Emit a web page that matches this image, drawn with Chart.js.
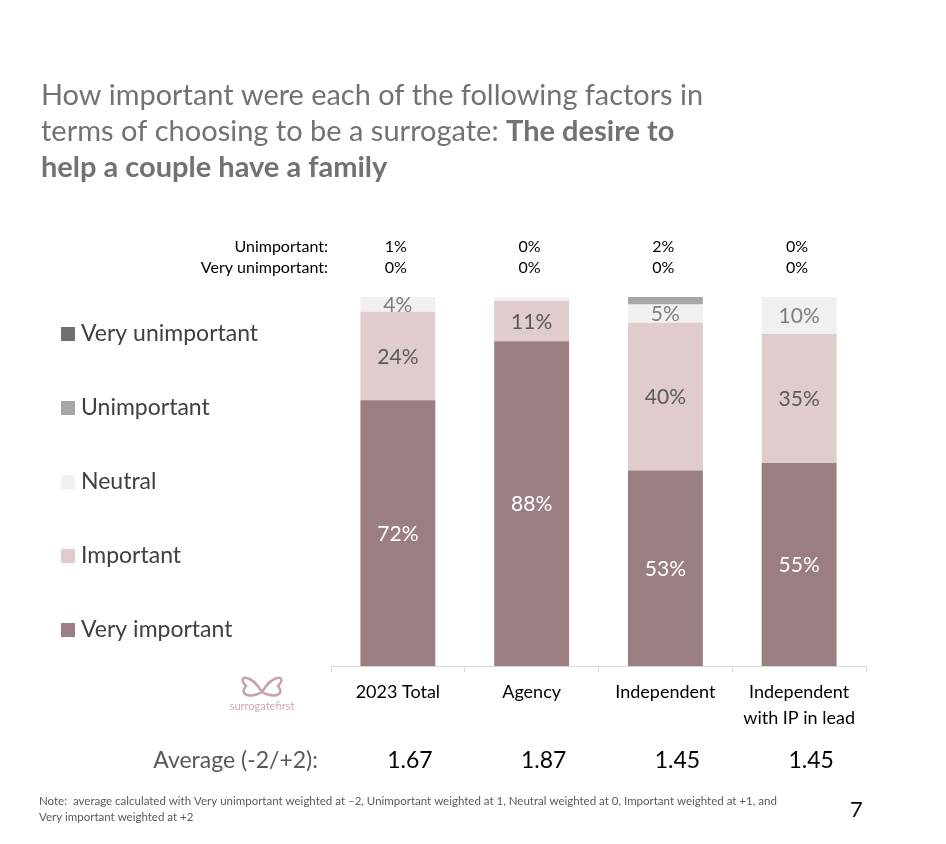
<!DOCTYPE html>
<html>
<head>
<meta charset="utf-8">
<script src="https://cdn.jsdelivr.net/npm/chart.js@4"></script>
<style>
  html, body { margin: 0; padding: 0; background: #fff; }
  #wrap { width: 946px; height: 844px; position: relative; }
</style>
</head>
<body>
<div id="wrap"><canvas id="chart" width="946" height="844"></canvas></div>
<script>
const categories = ['2023 Total', 'Agency', 'Independent', ['Independent', 'with IP in lead']];
const veryImportant = [72, 88, 53, 55];
const important = [24, 11, 40, 35];
const neutral = [4, 1, 5, 10];
const unimportant = [1, 0, 2, 0];
const veryUnimportant = [0, 0, 0, 0];
const averages = ['1.67', '1.87', '1.45', '1.45'];
const yTicks = [0, 100];

const FONT = 'Lato, "Open Sans", sans-serif';
const colors = {
  vi: '#9b7e82', im: '#e0cbcd', ne: '#f0f0f0', un: '#a6a6a6', vu: '#707070',
};

// titles, legend, side numbers and footnote drawn around the chart area
const decor = {
  id: 'decor',
  afterDraw(chart) {
    const { ctx } = chart;
    const x = chart.scales.x;
    ctx.save();
    ctx.textBaseline = 'middle';

    // title
    ctx.fillStyle = '#767171';
    ctx.textAlign = 'left';
    ctx.font = '29px ' + FONT;
    ctx.fillText('How important were each of the following factors in', 41, 96, 662);
    const part = 'terms of choosing to be a surrogate: ';
    ctx.fillText(part, 41, 132, 470);
    const w = Math.min(ctx.measureText(part).width, 470);
    ctx.font = 'bold 29px ' + FONT;
    ctx.fillText('The desire to', 41 + w, 132, 676 - 41 - w);
    ctx.fillText('help a couple have a family', 41, 168, 352);

    // top rows
    ctx.fillStyle = '#000';
    ctx.font = '16px ' + FONT;
    ctx.textAlign = 'right';
    ctx.fillText('Unimportant:', 328, 247);
    ctx.fillText('Very unimportant:', 328, 268);
    ctx.textAlign = 'center';
    categories.forEach((c, i) => {
      const cx = x.getPixelForValue(i) - 2;
      ctx.fillText(unimportant[i] + '%', cx, 247);
      ctx.fillText(veryUnimportant[i] + '%', cx, 268);
    });

    // legend
    const legend = [
      ['Very unimportant', colors.vu, 334],
      ['Unimportant', colors.un, 408],
      ['Neutral', colors.ne, 482],
      ['Important', colors.im, 556],
      ['Very important', colors.vi, 630],
    ];
    ctx.font = '23px ' + FONT;
    ctx.textAlign = 'left';
    legend.forEach(([t, c, y]) => {
      ctx.fillStyle = c;
      ctx.fillRect(61, y - 7, 14, 14);
      ctx.fillStyle = '#404040';
      ctx.fillText(t, 81, y);
    });

    // averages
    ctx.font = '23px ' + FONT;
    ctx.fillStyle = '#595959';
    ctx.textAlign = 'right';
    ctx.fillText('Average (-2/+2):', 318, 761);
    ctx.fillStyle = '#000';
    ctx.textAlign = 'center';
    averages.forEach((a, i) => ctx.fillText(a, x.getPixelForValue(i) + 12, 761));

    // note
    ctx.font = '11.5px ' + FONT;
    ctx.fillStyle = '#595959';
    ctx.textAlign = 'left';
    ctx.fillText('Note:  average calculated with Very unimportant weighted at \u20132, Unimportant weighted at 1, Neutral weighted at 0, Important weighted at +1, and', 39, 801, 752);
    ctx.fillText('Very important weighted at +2', 39, 817);
    ctx.font = '22px ' + FONT;
    ctx.fillStyle = '#000';
    ctx.fillText('7', 850, 810);

    // logo
    ctx.strokeStyle = '#c9a2a9';
    ctx.lineWidth = 2.5;
    ctx.beginPath();
    ctx.moveTo(262, 692);
    ctx.bezierCurveTo(250, 672, 236, 676, 246, 686);
    ctx.bezierCurveTo(238, 696, 252, 698, 262, 692);
    ctx.moveTo(262, 692);
    ctx.bezierCurveTo(274, 672, 288, 676, 278, 686);
    ctx.bezierCurveTo(286, 696, 272, 698, 262, 692);
    ctx.stroke();
    ctx.font = '11px ' + FONT;
    ctx.fillStyle = '#cfaab1';
    ctx.textAlign = 'center';
    ctx.fillText('surrogatefirst', 262, 706);
    ctx.restore();
  },
};

// percentage labels inside bar segments
const segLabels = {
  id: 'segLabels',
  afterDatasetsDraw(chart) {
    const { ctx } = chart;
    ctx.save();
    ctx.textAlign = 'center';
    ctx.textBaseline = 'middle';
    ctx.font = '21px ' + FONT;
    chart.data.datasets.forEach((ds, di) => {
      if (!ds.labelColor) return;
      chart.getDatasetMeta(di).data.forEach((el, i) => {
        const v = ds.data[i];
        if (v < 3) return;
        ctx.fillStyle = ds.labelColor;
        ctx.fillText(v + '%', el.x, (el.y + el.base) / 2 + 1);
      });
    });
    ctx.restore();
  },
};

new Chart(document.getElementById('chart'), {
  type: 'bar',
  data: {
    labels: categories,
    datasets: [
      { label: 'Very important', data: veryImportant, backgroundColor: colors.vi, labelColor: '#ffffff' },
      { label: 'Important', data: important, backgroundColor: colors.im, labelColor: '#595959' },
      { label: 'Neutral', data: neutral, backgroundColor: colors.ne, labelColor: '#7f7f7f' },
      { label: 'Unimportant', data: unimportant, backgroundColor: colors.un },
      { label: 'Very unimportant', data: veryUnimportant, backgroundColor: colors.vu },
    ],
  },
  options: {
    responsive: false, animation: false,
    layout: { padding: { left: 331, right: 80, top: 297, bottom: 118 } },
    datasets: { bar: { categoryPercentage: 1, barPercentage: 0.56 } },
    plugins: { legend: { display: false }, tooltip: { enabled: false } },
    scales: {
      x: {
        stacked: true,
        grid: { offset: true, drawOnChartArea: false, color: '#d9d9d9', tickLength: 6 },
        border: { color: '#d9d9d9' },
        ticks: { font: { family: FONT, size: 18, lineHeight: 1.4 }, color: '#000', padding: 8, maxRotation: 0 },
        afterFit: (axis) => { axis.height = 60; },
      },
      y: {
        stacked: true, display: false, min: yTicks[0], max: yTicks[1],
      },
    },
  },
  plugins: [segLabels, decor],
});
</script>
</body>
</html>
